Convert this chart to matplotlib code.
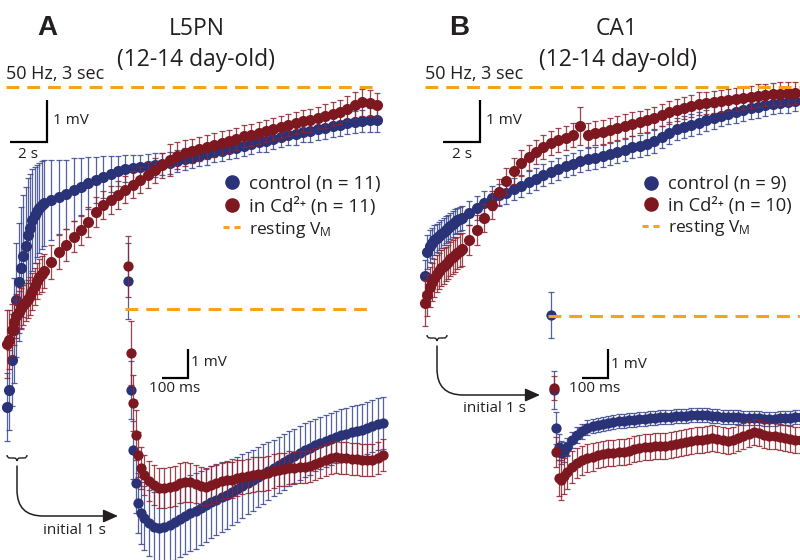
import numpy as np
import matplotlib
matplotlib.use("Agg")
import matplotlib.pyplot as plt
from matplotlib.lines import Line2D
from matplotlib.patches import FancyArrowPatch, PathPatch
from matplotlib.path import Path

plt.rcParams['font.family'] = ['Open Sans', 'DejaVu Sans']
plt.rcParams['mathtext.fontset'] = 'custom'
plt.rcParams['mathtext.rm'] = 'Open Sans'
plt.rcParams['mathtext.it'] = 'Open Sans:italic'
plt.rcParams['mathtext.bf'] = 'Open Sans:bold'

# ---------------- data (mV relative to resting Vm) ----------------
# main traces: time in s
t_main = [0.0, 0.125, 0.25, 0.375, 0.5, 0.625, 0.75, 0.875, 1.0, 1.125,
          1.25, 1.375, 1.5, 1.625, 1.75, 1.875, 2.0,
          2.4, 2.8, 3.2, 3.6, 4.0, 4.4, 4.8, 5.2, 5.6, 6.0,
          6.4, 6.8, 7.2, 7.6, 8.0, 8.4, 8.8, 9.2, 9.6, 10.0,
          10.4, 10.8, 11.2, 11.6, 12.0, 12.4, 12.8, 13.2, 13.6, 14.0,
          14.4, 14.8, 15.2, 15.6, 16.0, 16.4, 16.8, 17.2, 17.6, 18.0,
          18.4, 18.8, 19.2, 19.6, 20.0]

# Panel A (L5PN) main trace
A_ctrl = [-7.62, -7.21, -6.50, -5.79, -5.07, -4.64, -4.31, -4.02, -3.79, -3.52,
          -3.36, -3.17, -3.05, -2.95, -2.88, -2.81, -2.76,
          -2.69, -2.62, -2.55, -2.45, -2.38, -2.29, -2.21, -2.14, -2.07, -2.00,
          -1.95, -1.93, -1.90, -1.88, -1.86, -1.83, -1.81, -1.76, -1.71, -1.69,
          -1.64, -1.60, -1.55, -1.52, -1.48, -1.45, -1.40, -1.36, -1.31, -1.29,
          -1.24, -1.19, -1.14, -1.12, -1.07, -1.05, -1.00, -0.98, -0.93, -0.90,
          -0.86, -0.83, -0.81, -0.79, -0.79]
A_ctrl_sem = [0.80, 0.95, 1.10, 1.25, 1.35, 1.40, 1.45, 1.45, 1.40, 1.35,
              1.30, 1.22, 1.15, 1.10, 1.08, 1.05, 1.02,
              0.95, 0.88, 0.82, 0.75, 0.70, 0.62, 0.55, 0.50, 0.42, 0.36,
              0.32, 0.30, 0.29, 0.28, 0.28, 0.27, 0.27, 0.26, 0.26, 0.25,
              0.25, 0.25, 0.24, 0.25, 0.24, 0.24, 0.25, 0.24, 0.24, 0.25,
              0.24, 0.25, 0.24, 0.25, 0.24, 0.25, 0.25, 0.26, 0.25, 0.26,
              0.26, 0.27, 0.27, 0.28, 0.28]
A_cd = [-6.12, -6.02, -5.79, -5.60, -5.45, -5.36, -5.26, -5.19, -5.12, -5.05,
        -4.98, -4.86, -4.74, -4.62, -4.52, -4.45, -4.38,
        -4.17, -3.93, -3.76, -3.57, -3.40, -3.21, -2.98, -2.81, -2.69, -2.57,
        -2.45, -2.33, -2.21, -2.10, -1.98, -1.86, -1.74, -1.64, -1.57, -1.52,
        -1.48, -1.43, -1.38, -1.33, -1.29, -1.24, -1.17, -1.14, -1.10, -1.05,
        -1.00, -0.95, -0.90, -0.86, -0.81, -0.79, -0.74, -0.69, -0.64, -0.60,
        -0.52, -0.43, -0.36, -0.38, -0.43]
A_cd_sem = [0.80, 0.70, 0.62, 0.55, 0.52, 0.50, 0.48, 0.48, 0.46, 0.45,
            0.45, 0.44, 0.44, 0.43, 0.42, 0.42, 0.41,
            0.40, 0.40, 0.38, 0.37, 0.36, 0.35, 0.35, 0.34, 0.33, 0.33,
            0.32, 0.32, 0.31, 0.31, 0.30, 0.30, 0.38, 0.32, 0.30, 0.29,
            0.29, 0.28, 0.28, 0.28, 0.27, 0.27, 0.27, 0.27, 0.26, 0.26,
            0.26, 0.26, 0.26, 0.27, 0.27, 0.27, 0.27, 0.28, 0.28, 0.28,
            0.30, 0.32, 0.32, 0.30, 0.28]

# Panel B (CA1) main trace
B_ctrl = [-4.50, -3.93, -3.79, -3.71, -3.64, -3.60, -3.55, -3.50, -3.45, -3.40,
          -3.36, -3.31, -3.26, -3.21, -3.17, -3.14, -3.12,
          -3.00, -2.88, -2.76, -2.64, -2.57, -2.52, -2.43, -2.36, -2.26, -2.19,
          -2.10, -2.02, -1.95, -1.88, -1.83, -1.76, -1.71, -1.69, -1.64, -1.60,
          -1.55, -1.50, -1.43, -1.40, -1.36, -1.29, -1.19, -1.10, -1.00, -0.95,
          -0.90, -0.86, -0.79, -0.74, -0.69, -0.64, -0.60, -0.55, -0.50, -0.48,
          -0.43, -0.40, -0.38, -0.36, -0.33]
B_ctrl_sem = [0.38, 0.40, 0.38, 0.36, 0.35, 0.34, 0.33, 0.33, 0.32, 0.32,
              0.31, 0.31, 0.30, 0.30, 0.30, 0.29, 0.29,
              0.29, 0.28, 0.28, 0.28, 0.27, 0.27, 0.27, 0.27, 0.27, 0.26,
              0.26, 0.27, 0.26, 0.26, 0.27, 0.26, 0.26, 0.27, 0.26, 0.26,
              0.26, 0.27, 0.26, 0.26, 0.26, 0.27, 0.26, 0.26, 0.26, 0.26,
              0.26, 0.26, 0.25, 0.26, 0.25, 0.25, 0.26, 0.25, 0.25, 0.25,
              0.25, 0.25, 0.25, 0.25, 0.25]
B_cd = [-5.14, -4.95, -4.76, -4.64, -4.55, -4.45, -4.38, -4.31, -4.26, -4.21,
        -4.17, -4.10, -4.05, -4.00, -3.95, -3.90, -3.86,
        -3.64, -3.40, -3.12, -2.81, -2.50, -2.24, -2.00, -1.81, -1.67, -1.55,
        -1.43, -1.33, -1.26, -1.21, -1.14, -0.93, -1.14, -1.10, -1.07, -1.02,
        -0.98, -0.93, -0.88, -0.83, -0.79, -0.74, -0.67, -0.60, -0.55, -0.50,
        -0.45, -0.40, -0.38, -0.36, -0.33, -0.31, -0.29, -0.26, -0.24, -0.21,
        -0.19, -0.17, -0.16, -0.15, -0.14]
B_cd_sem = [0.55, 0.50, 0.48, 0.46, 0.45, 0.44, 0.43, 0.42, 0.42, 0.41,
            0.41, 0.40, 0.40, 0.40, 0.39, 0.39, 0.39,
            0.36, 0.35, 0.34, 0.33, 0.32, 0.31, 0.30, 0.30, 0.30, 0.29,
            0.29, 0.29, 0.29, 0.28, 0.28, 0.45, 0.28, 0.28, 0.28, 0.28,
            0.28, 0.28, 0.28, 0.27, 0.27, 0.27, 0.27, 0.27, 0.27, 0.27,
            0.27, 0.27, 0.27, 0.27, 0.27, 0.27, 0.27, 0.27, 0.27, 0.27,
            0.27, 0.27, 0.27, 0.27, 0.27]

# insets: initial 1 s, time in s
t_init = [0.00, 0.01, 0.02, 0.03, 0.04, 0.05, 0.06,
          0.08, 0.10, 0.12, 0.14, 0.16, 0.18, 0.20, 0.22, 0.24, 0.26,
          0.28, 0.30, 0.32, 0.34, 0.36, 0.38, 0.40, 0.42, 0.44, 0.46,
          0.48, 0.50, 0.52, 0.54, 0.56, 0.58, 0.60, 0.62, 0.64, 0.66,
          0.68, 0.70, 0.72, 0.74, 0.76, 0.78, 0.80, 0.82, 0.84, 0.86,
          0.88, 0.90, 0.92, 0.94, 0.96, 0.98]

Ai_ctrl = [0.97, -2.79, -4.86, -6.00, -6.69, -7.03, -7.21,
           -7.38, -7.52, -7.55, -7.52, -7.45, -7.34, -7.24, -7.14, -7.03, -6.97,
           -6.86, -6.76, -6.66, -6.59, -6.48, -6.41, -6.31, -6.21, -6.10, -6.00,
           -5.90, -5.79, -5.69, -5.59, -5.48, -5.38, -5.28, -5.17, -5.07, -4.97,
           -4.86, -4.79, -4.69, -4.62, -4.55, -4.48, -4.41, -4.34, -4.31, -4.24,
           -4.21, -4.17, -4.10, -4.03, -3.97, -3.93]
Ai_ctrl_sem = [1.30, 1.00, 1.00, 1.05, 1.05, 1.07, 1.10,
               1.15, 1.20, 1.25, 1.28, 1.30, 1.30, 1.30, 1.30, 1.30, 1.30,
               1.28, 1.26, 1.25, 1.22, 1.20, 1.18, 1.15, 1.12, 1.10, 1.08,
               1.05, 1.03, 1.02, 1.00, 0.98, 0.97, 0.96, 0.95, 0.94, 0.93,
               0.92, 0.92, 0.91, 0.91, 0.90, 0.90, 0.90, 0.90, 0.90, 0.90,
               0.90, 0.90, 0.90, 0.90, 0.90, 0.90]
Ai_cd = [1.48, -1.52, -3.24, -4.34, -5.03, -5.48, -5.72,
         -5.93, -6.07, -6.17, -6.17, -6.14, -6.10, -6.00, -5.97, -5.97, -6.03,
         -6.10, -6.14, -6.07, -6.00, -5.93, -5.90, -5.90, -5.83, -5.79, -5.76,
         -5.72, -5.69, -5.69, -5.66, -5.59, -5.55, -5.52, -5.48, -5.48, -5.45,
         -5.45, -5.41, -5.34, -5.28, -5.21, -5.14, -5.10, -5.14, -5.14, -5.17,
         -5.17, -5.21, -5.21, -5.21, -5.14, -5.03]
Ai_cd_sem = [1.05, 1.10, 0.95, 0.85, 0.78, 0.72, 0.70,
             0.70, 0.70, 0.70, 0.70, 0.70, 0.69, 0.68, 0.68, 0.67, 0.66,
             0.66, 0.65, 0.64, 0.64, 0.63, 0.62, 0.62, 0.61, 0.60, 0.60,
             0.60, 0.59, 0.58, 0.58, 0.58, 0.57, 0.57, 0.57, 0.56, 0.56,
             0.56, 0.56, 0.56, 0.55, 0.55, 0.55, 0.55, 0.55, 0.55, 0.55,
             0.55, 0.55, 0.55, 0.55, 0.55, 0.55]

Bi_ctrl = [0.03, -2.55, -3.86, -4.52, -4.72, -4.69, -4.52,
           -4.28, -4.10, -3.97, -3.86, -3.79, -3.76, -3.72, -3.69, -3.66, -3.62,
           -3.62, -3.59, -3.59, -3.55, -3.55, -3.52, -3.52, -3.48, -3.48, -3.48,
           -3.45, -3.45, -3.45, -3.41, -3.41, -3.41, -3.41, -3.45, -3.45, -3.48,
           -3.48, -3.48, -3.48, -3.52, -3.52, -3.52, -3.52, -3.55, -3.55, -3.55,
           -3.52, -3.52, -3.52, -3.48, -3.48, -3.48]
Bi_ctrl_sem = [0.79, 0.65, 0.55, 0.45, 0.40, 0.35, 0.30,
               0.28, 0.27, 0.26, 0.26, 0.25, 0.25, 0.25, 0.25, 0.25, 0.25,
               0.25, 0.25, 0.25, 0.25, 0.25, 0.25, 0.25, 0.25, 0.25, 0.25,
               0.25, 0.25, 0.25, 0.25, 0.25, 0.25, 0.25, 0.25, 0.25, 0.25,
               0.25, 0.25, 0.25, 0.25, 0.25, 0.25, 0.25, 0.25, 0.25, 0.25,
               0.25, 0.25, 0.25, 0.25, 0.25, 0.25]
Bi_cd = [np.nan, -2.48, -4.69, -5.59, -5.66, -5.52, -5.38,
         -5.21, -5.07, -4.97, -4.90, -4.86, -4.79, -4.76, -4.72, -4.72, -4.69,
         -4.69, -4.66, -4.59, -4.55, -4.52, -4.52, -4.48, -4.48, -4.48, -4.45,
         -4.41, -4.38, -4.34, -4.31, -4.28, -4.28, -4.24, -4.21, -4.24, -4.28,
         -4.31, -4.28, -4.21, -4.14, -4.07, -4.00, -4.03, -4.10, -4.14, -4.14,
         -4.17, -4.21, -4.24, -4.28, -4.28, -4.28]
Bi_cd_sem = [np.nan, 0.42, 0.52, 0.62, 0.68, 0.62, 0.58,
             0.55, 0.52, 0.50, 0.48, 0.47, 0.46, 0.45, 0.45, 0.45, 0.45,
             0.45, 0.45, 0.45, 0.45, 0.45, 0.45, 0.45, 0.45, 0.45, 0.45,
             0.45, 0.45, 0.45, 0.45, 0.45, 0.45, 0.45, 0.45, 0.45, 0.45,
             0.45, 0.45, 0.45, 0.45, 0.45, 0.45, 0.45, 0.45, 0.45, 0.45,
             0.45, 0.45, 0.45, 0.45, 0.45, 0.45]

labels_A = ['control (n = 11)', 'in Cd\u00b2\u207a (n = 11)', r'resting V$_{\mathregular{M}}$']
labels_B = ['control (n = 9)', 'in Cd\u00b2\u207a (n = 10)', r'resting V$_{\mathregular{M}}$']

# ---------------- styling ----------------
W, H = 800, 560
C_BLUE = '#2a3278'
C_RED = '#7e1820'
E_BLUE = (0.22, 0.27, 0.56, 0.85)
E_RED = (0.55, 0.14, 0.18, 0.85)
C_REST = '#f7a21b'
TXT = '#231f20'

fig = plt.figure(figsize=(8, 5.6), dpi=100)
fig.patch.set_facecolor('white')


def px_axes(x0, y0, sx, sy):
    """Full-figure transparent axes: data x=0 at pixel x0, data y=0 at pixel row y0
    (from top); sx pixels per x unit, sy pixels per y unit."""
    ax = fig.add_axes([0, 0, 1, 1])
    ax.set_xlim(-x0 / sx, (W - x0) / sx)
    ax.set_ylim((y0 - H) / sy, y0 / sy)
    ax.set_axis_off()
    ax.patch.set_alpha(0)
    return ax


def plot_trace(ax, t, m, e, color, ecolor, z, ms):
    ax.errorbar(t, m, yerr=e, fmt='o', ms=ms, color=color, mec='none',
                ecolor=ecolor, elinewidth=0.9, capsize=2.3, capthick=0.9,
                zorder=z, clip_on=False)


def scale_bar(ax, x_right, y_top, dx, dy, lw=1.6):
    ax.plot([x_right, x_right, x_right - dx], [y_top, y_top - dy, y_top - dy],
            color='black', lw=lw, solid_capstyle='butt', solid_joinstyle='miter',
            zorder=10)


# main traces: 18.5 px per s, 42 px per mV
axA = px_axes(7, 87, 18.5, 42)
axB = px_axes(425, 87, 18.5, 42)
# insets: 260 px per s, 29 px per mV
axAi = px_axes(128, 309, 260, 29)
axBi = px_axes(551, 316, 260, 29)

for ax, t, c, ce, r, re, ms in [(axA, t_main, A_ctrl, A_ctrl_sem, A_cd, A_cd_sem, 8.0),
                                (axB, t_main, B_ctrl, B_ctrl_sem, B_cd, B_cd_sem, 8.0),
                                (axAi, t_init, Ai_ctrl, Ai_ctrl_sem, Ai_cd, Ai_cd_sem, 7.4),
                                (axBi, t_init, Bi_ctrl, Bi_ctrl_sem, Bi_cd, Bi_cd_sem, 7.4)]:
    plot_trace(ax, t, c, ce, C_BLUE, E_BLUE, 3, ms)
    plot_trace(ax, t, r, re, C_RED, E_RED, 4, ms)

# resting Vm dashed lines
dash = dict(color=C_REST, lw=2.2, linestyle=(0, (4.2, 2.6)), zorder=8)
axA.hlines(0, -0.05, 19.75, **dash)
axB.hlines(0, 0.0, 20.5, **dash)
axAi.hlines(0, -0.01, 0.945, **dash)
axBi.hlines(0, -0.01, 0.97, **dash)

# scale bars (1 mV / 2 s on main, 1 mV / 100 ms on insets)
scale_bar(axA, 2.16, -0.31, 2.0, 1.0)
scale_bar(axB, 2.97, -0.31, 2.0, 1.0)
scale_bar(axAi, 0.231, -1.38, 0.1, 1.0)
scale_bar(axBi, 0.219, -1.14, 0.1, 1.0)

# ---------------- text / annotation overlay in pixel coordinates ----------------
ov = fig.add_axes([0, 0, 1, 1])
ov.set_xlim(0, W)
ov.set_ylim(H, 0)
ov.set_axis_off()
ov.patch.set_alpha(0)

bold = dict(family=['Liberation Sans', 'DejaVu Sans'], weight='bold', fontsize=20,
            color=TXT, ha='center', va='center')
ov.text(47, 28, 'A', **bold)
ov.text(459, 28, 'B', **bold)

ttl = dict(fontsize=16.5, color=TXT, ha='center', va='center')
ov.text(197, 29, 'L5PN', **ttl)
ov.text(196, 60, '(12-14 day-old)', **ttl)
ov.text(617, 29, 'CA1', **ttl)
ov.text(618, 60, '(12-14 day-old)', **ttl)

ov.text(6, 74, '50 Hz, 3 sec', fontsize=13, color=TXT, ha='left', va='center')
ov.text(425, 74, '50 Hz, 3 sec', fontsize=13, color=TXT, ha='left', va='center')

sb = dict(fontsize=11, color=TXT, va='center')
ov.text(53, 121, '1 mV', ha='left', **sb)
ov.text(28, 155, '2 s', ha='center', **sb)
ov.text(486, 121, '1 mV', ha='left', **sb)
ov.text(462, 155, '2 s', ha='center', **sb)
ov.text(191, 363, '1 mV', ha='left', **sb)
ov.text(175, 389, '100 ms', ha='center', **sb)
ov.text(611, 364, '1 mV', ha='left', **sb)
ov.text(595, 389, '100 ms', ha='center', **sb)

ov.text(74, 530, 'initial 1 s', ha='center', **sb)
ov.text(494, 409, 'initial 1 s', ha='center', **sb)


def brace(x0, x1, y):
    xm = 0.5 * (x0 + x1)
    verts = [(x0, y), (x0, y + 3), (x0 + 3, y + 3),
             (xm - 3, y + 3), (xm, y + 3), (xm, y + 6),
             (xm, y + 3), (xm + 3, y + 3),
             (x1 - 3, y + 3), (x1, y + 3), (x1, y)]
    codes = [Path.MOVETO, Path.CURVE3, Path.CURVE3,
             Path.LINETO, Path.CURVE3, Path.CURVE3,
             Path.CURVE3, Path.CURVE3,
             Path.LINETO, Path.CURVE3, Path.CURVE3]
    ov.add_patch(PathPatch(Path(verts, codes), fill=False, lw=1.0, color=TXT))


brace(7, 27, 455)
brace(427, 447, 335)

for (xa, ya), (xb, yb) in [((17, 466), (118, 516)), ((437, 346), (540, 395))]:
    ov.add_patch(FancyArrowPatch((xa, ya), (xb, yb),
                                 connectionstyle='angle,angleA=90,angleB=0,rad=26',
                                 arrowstyle='-|>,head_length=9,head_width=4',
                                 lw=1.1, color=TXT, shrinkA=0, shrinkB=0))

# ---------------- legends ----------------
handles = [Line2D([], [], ls='none', marker='o', ms=10.5, color=C_BLUE, mec='none'),
           Line2D([], [], ls='none', marker='o', ms=10.5, color=C_RED, mec='none'),
           Line2D([], [], color=C_REST, lw=2.2, linestyle=(0, (2.0, 1.6)))]

for ax, labels, x_left, fs in [(axA, labels_A, 223, 13.5), (axB, labels_B, 642, 13.2)]:
    leg = ax.legend(handles, labels, loc='upper left',
                    bbox_to_anchor=(x_left / W, 1 - 175 / H),
                    bbox_transform=fig.transFigure, frameon=False,
                    fontsize=fs, handlelength=1.0, handletextpad=0.4,
                    borderpad=0, borderaxespad=0, labelspacing=0.2)
    for txt in leg.get_texts():
        txt.set_color(TXT)
    leg.get_texts()[2].set_fontsize(12.5)

fig.savefig('out.png', dpi=100, facecolor='white')
